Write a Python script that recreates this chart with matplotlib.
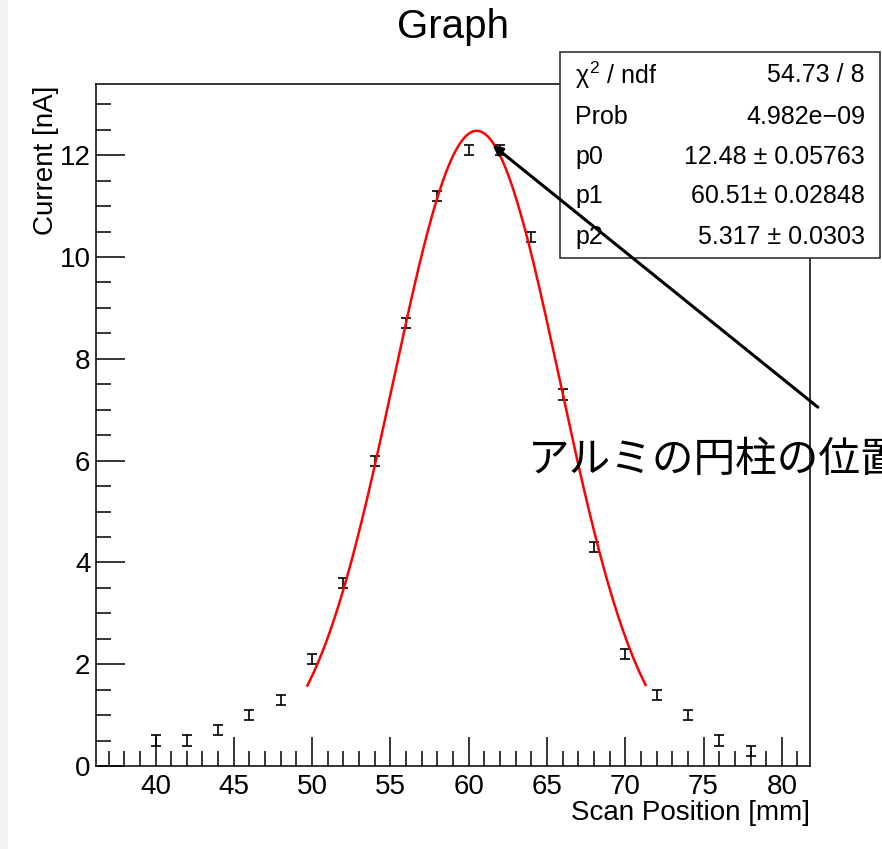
import numpy as np
import matplotlib
matplotlib.use("Agg")
import matplotlib.pyplot as plt
from matplotlib.ticker import MultipleLocator
from matplotlib.patches import Rectangle
from matplotlib.text import Annotation

plt.rcParams['font.family'] = ['Liberation Sans', 'DejaVu Sans']
plt.rcParams['mathtext.fontset'] = 'custom'
plt.rcParams['mathtext.rm'] = 'Liberation Sans'
plt.rcParams['mathtext.it'] = 'Liberation Sans'

# Data
positions = [40, 42, 44, 46, 48, 50, 52, 54, 56, 58, 60, 62, 64, 66, 68, 70, 72, 74, 76, 78]
currents = [0.5, 0.5, 0.7, 1.0, 1.3, 2.1, 3.6, 6.0, 8.7, 11.2, 12.1, 12.1, 10.4, 7.3, 4.3, 2.2, 1.4, 1.0, 0.5, 0.3]
errors = [0.1] * len(positions)

# Gaussian fit parameters
p0, p1, p2 = 12.48, 60.51, 5.317
fit_lo, fit_hi = 49.7, 71.3

stats_labels = [r"$\chi^{2}$ / ndf", "Prob", "p0", "p1", "p2"]
stats_values = ["54.73 / 8", "4.982e\u221209", "12.48 \u00b1 0.05763", "60.51\u00b1 0.02848", "5.317 \u00b1 0.0303"]

W, H = 882, 849
fig = plt.figure(figsize=(W / 100, H / 100), dpi=100)
fig.patch.set_facecolor('white')
fig.add_artist(Rectangle((0, 0), 8 / W, 1, transform=fig.transFigure, facecolor='#f3f3f3', edgecolor='none'))

ax = fig.add_axes([96 / W, 1 - 766 / H, (810 - 96) / W, (766 - 84) / H])
ax.errorbar(positions, currents, yerr=errors, fmt='none', ecolor='black', elinewidth=1.2, capsize=3.5, capthick=1.2)

xf = np.linspace(fit_lo, fit_hi, 400)
ax.plot(xf, p0 * np.exp(-0.5 * ((xf - p1) / p2) ** 2), color='red', lw=1.8)

ax.set_xlim(36.2, 81.8)
ax.set_ylim(0, 13.4)
ax.xaxis.set_major_locator(MultipleLocator(5))
ax.xaxis.set_minor_locator(MultipleLocator(1))
ax.yaxis.set_major_locator(MultipleLocator(2))
ax.yaxis.set_minor_locator(MultipleLocator(0.5))
ax.tick_params(which='both', direction='in', top=False, right=False, labelsize=20, width=1.1)
ax.tick_params(which='major', length=21, pad=6)
ax.tick_params(which='minor', length=11)
ax.tick_params(axis='y', pad=4)
for s in ax.spines.values():
    s.set_linewidth(1.1)

fig.text(810 / W, 1 - 813 / H, "Scan Position [mm]", ha='right', va='center', fontsize=20)
fig.text(46 / W, 1 - 86 / H, "Current [nA]", ha='center', va='top', rotation=90, fontsize=20)
fig.text(453 / W, 1 - 27 / H, "Graph", ha='center', va='center', fontsize=29)

ax.text(63.8, 6.0, "アルミの円柱の位置", fontsize=30, va='center', ha='left', clip_on=False,
        family=['Noto Sans CJK JP', 'DejaVu Sans'])

# stats box
bx0, bx1, by0, by1 = 560, 880, 52, 258
fig.add_artist(Rectangle((bx0 / W, 1 - by1 / H), (bx1 - bx0) / W, (by1 - by0) / H, transform=fig.transFigure,
                         facecolor='white', edgecolor='#333333', lw=1.2, zorder=2))
rows_y = [75, 117, 157, 196, 237]
for lab, val, yy in zip(stats_labels, stats_values, rows_y):
    fig.text(575 / W, 1 - yy / H, lab, ha='left', va='center', fontsize=18, zorder=3)
    fig.text(865 / W, 1 - yy / H, val, ha='right', va='center', fontsize=18, zorder=3)

# annotation arrow (drawn on top of the stats box)
arrow = Annotation("", xy=(61.53, 12.2), xytext=(82.3, 7.05), xycoords=ax.transData, textcoords=ax.transData,
                   annotation_clip=False,
                   arrowprops=dict(arrowstyle='-|>', color='black', lw=2.2, mutation_scale=14, shrinkA=0, shrinkB=0))
arrow.set_zorder(5)
fig.add_artist(arrow)

fig.savefig("out.png", dpi=100)
